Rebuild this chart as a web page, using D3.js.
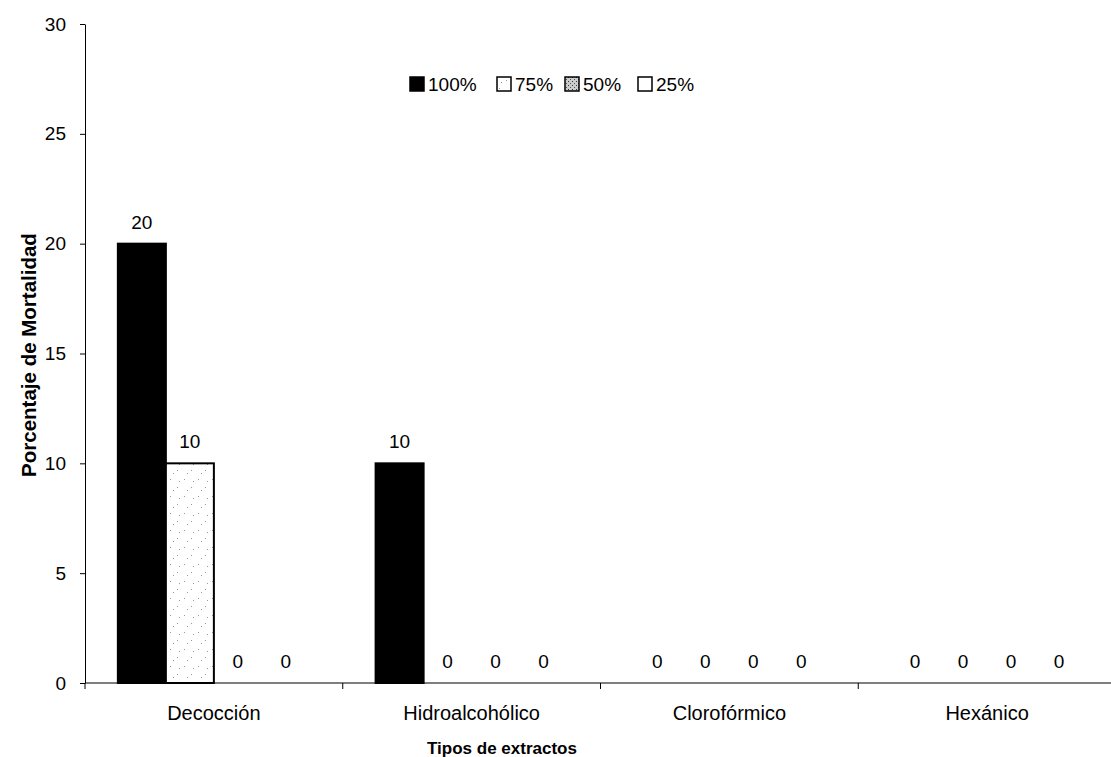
<!DOCTYPE html>
<html><head><meta charset="utf-8">
<script src="https://cdn.jsdelivr.net/npm/d3@7"></script>
<style>body{margin:0;background:#fff}svg{display:block}text{font-family:"Liberation Sans",Arial,sans-serif;fill:#000}</style>
</head><body>
<svg id="c" width="1111" height="757"></svg>
<script>
const categories = ["Decocción","Hidroalcohólico","Clorofórmico","Hexánico"];
const seriesNames = ["100%","75%","50%","25%"];
const v100 = [20,10,0,0];
const v75 = [10,0,0,0];
const v50 = [0,0,0,0];
const v25 = [0,0,0,0];
const yTicks = [0,5,10,15,20,25,30];
const seriesValues = [v100,v75,v50,v25];

const svg = d3.select("#c");
const defs = svg.append("defs");
const p75 = defs.append("pattern").attr("id","p75").attr("patternUnits","userSpaceOnUse").attr("width",14).attr("height",17);
p75.append("rect").attr("width",14).attr("height",17).attr("fill","#fff");
[[2,3],[9,11],[5,14],[11,5]].forEach(([x,y])=>p75.append("rect").attr("x",x).attr("y",y).attr("width",1).attr("height",1).attr("fill","#999"));
const p50 = defs.append("pattern").attr("id","p50").attr("patternUnits","userSpaceOnUse").attr("width",4).attr("height",4);
p50.append("rect").attr("width",4).attr("height",4).attr("fill","#ccc");
p50.append("rect").attr("x",0).attr("y",0).attr("width",1).attr("height",1).attr("fill","#333");
p50.append("rect").attr("x",2).attr("y",2).attr("width",1).attr("height",1).attr("fill","#555");
const fills = ["#000","url(#p75)","url(#p50)","#fff"];

const mL=85, mR=1116, mT=24, mB=683;
const x0 = d3.scaleBand().domain(categories).range([mL,mR]).paddingInner(0.255).paddingOuter(0.1275);
const x1 = d3.scaleBand().domain(seriesNames).range([0,x0.bandwidth()]);
const y = d3.scaleLinear().domain([0,30]).range([mB,mT]);

// y axis
const ya = svg.append("g").attr("transform",`translate(${mL},0)`).call(d3.axisLeft(y).tickValues(yTicks).tickSize(5).tickPadding(14).tickSizeOuter(0));
ya.select(".domain").attr("stroke","#000");
ya.selectAll(".tick line").attr("stroke","#000");
ya.selectAll("text").attr("font-size",19).attr("fill","#000").attr("font-family","Liberation Sans, Arial, sans-serif");

// bars
categories.forEach((c,ci)=>{
  seriesNames.forEach((s,si)=>{
    const v = seriesValues[si][ci];
    const bx = x0(c)+x1(s), bw = x1.bandwidth();
    svg.append("rect").attr("x",bx).attr("y",y(v)).attr("width",bw).attr("height",mB-y(v))
      .attr("fill",fills[si]).attr("stroke","#000").attr("stroke-width",2);
    svg.append("text").attr("x",bx+bw/2).attr("y",y(v)-15).attr("text-anchor","middle").attr("font-size",19).text(v);
  });
});

// x axis
const band = x0.step();
const xa = svg.append("g").attr("transform",`translate(0,${mB})`);
xa.append("line").attr("x1",mL).attr("x2",mR).attr("stroke","#000").attr("stroke-width",1.2);
d3.range(categories.length+1).forEach(i=>{
  xa.append("line").attr("x1",mL+i*band).attr("x2",mL+i*band).attr("y1",0).attr("y2",6).attr("stroke","#000");
});
categories.forEach(c=>{
  xa.append("text").attr("x",x0(c)+x0.bandwidth()/2).attr("y",37).attr("text-anchor","middle").attr("font-size",20).text(c);
});

// axis titles
svg.append("text").attr("x",502).attr("y",754).attr("text-anchor","middle").attr("font-size",17).attr("font-weight","bold").text("Tipos de extractos");
svg.append("text").attr("transform","translate(36,355) rotate(-90)").attr("text-anchor","middle").attr("font-size",20.5).attr("font-weight","bold").text("Porcentaje de Mortalidad");

// legend
const lg = svg.append("g").attr("transform","translate(0,77)");
const sq=[410,497,565,638], tx=[428,515,583,656];
seriesNames.forEach((s,i)=>{
  lg.append("rect").attr("x",sq[i]).attr("y",0).attr("width",14).attr("height",14).attr("fill",fills[i]).attr("stroke","#000").attr("stroke-width",1.5);
  lg.append("text").attr("x",tx[i]).attr("y",14).attr("font-size",19).text(s);
});
</script>
</body></html>
